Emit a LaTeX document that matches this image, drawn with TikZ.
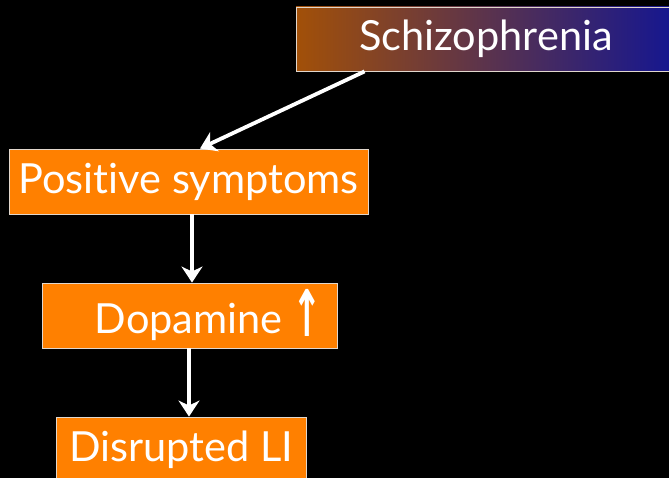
\documentclass[tikz,border=0pt]{standalone}
\usepackage{fontspec}
\setmainfont{Lato}[Ligatures=NoCommon]
\newfontfamily\arrowfont{DejaVu Sans}
\usetikzlibrary{arrows.meta,calc}
\definecolor{boxorange}{RGB}{255,128,0}
\definecolor{gradleft}{RGB}{162,80,8}
\definecolor{gradright}{RGB}{20,22,145}
\definecolor{boxedge}{RGB}{225,215,205}
\begin{document}
\begin{tikzpicture}[x=1pt,y=-1pt,
  box/.style={draw=boxedge, line width=0.9pt, fill=boxorange, text=white,
    inner sep=0pt, font=\fontsize{41.5}{45}\selectfont},
  conn/.style={draw=white, line width=3.8pt,
    -{Stealth[width=21pt,length=16pt,inset=5pt]}}]
\useasboundingbox (0,0) rectangle (669,478);
\fill[black] (0,0) rectangle (669,478);
\clip (0,0) rectangle (669,478);
\node[box, left color=gradleft, right color=gradright, minimum width=380pt, minimum height=64pt]
  (schizo) at (486,39) {\raisebox{-3pt}{Schizophrenia}};
\node[box, minimum width=359pt, minimum height=65pt] (pos) at (188.5,181.5) {\raisebox{-3pt}{Positive symptoms}};
\node[box, minimum width=295pt, minimum height=65pt] (dop) at (189.5,315.5)
  {\hspace{38pt}\raisebox{-3pt}{Dopamine}\hspace{10pt}\raisebox{-6pt}{\arrowfont\bfseries\scalebox{0.85}[1.55]{↑}}};
\node[box, minimum width=250pt, minimum height=65pt] (dis) at (181,449.5) {\raisebox{-3pt}{Disrupted LI}};
\coordinate (a1s) at ($(schizo.south west)+(69,0)$);
\coordinate (a1e) at ($(pos.north)+(11.5,0)$);
\coordinate (a2s) at ($(pos.south)+(3.5,0)$);
\coordinate (a2e) at ($(dop.north)+(2.5,0)$);
\coordinate (a3s) at ($(dop.south)+(-0.5,0)$);
\coordinate (a3e) at ($(dis.north)+(8,0)$);
\draw[conn] (a1s) -- (a1e);
\draw[conn] (a2s) -- (a2e);
\draw[conn] (a3s) -- (a3e);
\end{tikzpicture}
\end{document}
